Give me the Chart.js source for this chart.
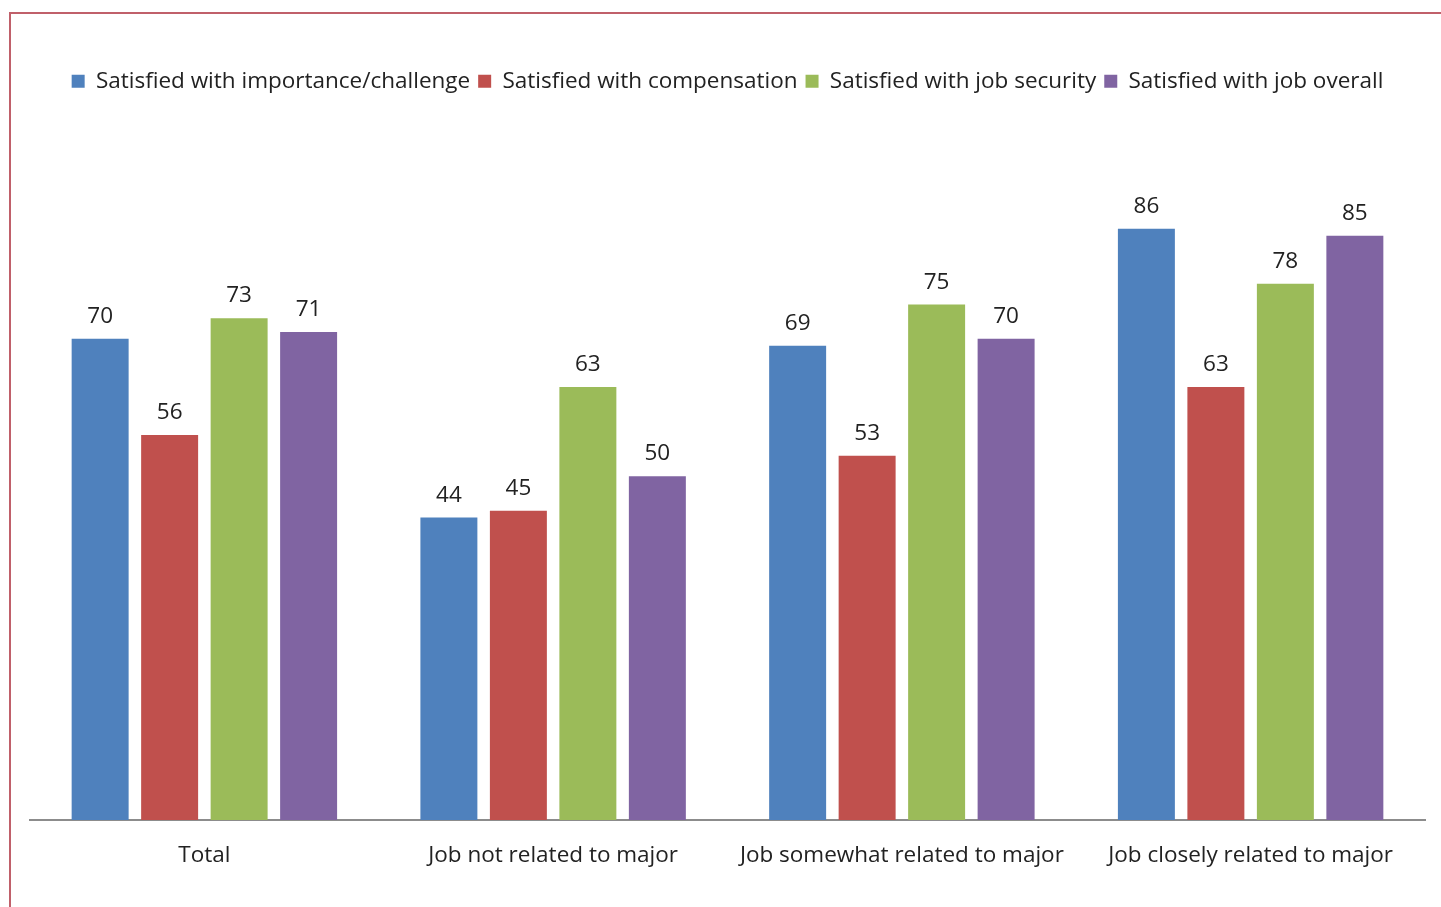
<!DOCTYPE html>
<html>
<head>
<meta charset="utf-8">
<script src="https://cdn.jsdelivr.net/npm/chart.js@4"></script>
<style>
    html, body { margin: 0; padding: 0; background: #fff; }
    #wrap { position: relative; width: 1441px; height: 907px; overflow: hidden; }
    #frame { position: absolute; left: 9px; top: 12px; width: 1500px; height: 1000px; border-left: 2px solid #c0606a; border-top: 2px solid #c0606a; }
    canvas { position: absolute; left: 0; top: 0; }
</style>
</head>
<body>
<div id="wrap">
    <div id="frame"></div>
    <canvas id="barChart" width="1441" height="907"></canvas>
</div>
<script>
// Data
const categories = ['Total', 'Job not related to major', 'Job somewhat related to major', 'Job closely related to major'];
const seriesNames = ['Satisfied with importance/challenge', 'Satisfied with compensation', 'Satisfied with job security', 'Satisfied with job overall'];
const importanceVals = [70, 44, 69, 86];
const compensationVals = [56, 45, 53, 63];
const securityVals = [73, 63, 75, 78];
const overallVals = [71, 50, 70, 85];
const colors = ['#4f81bd', '#c0504d', '#9bbb59', '#8064a2'];

const FONT = '"Open Sans", sans-serif';
const FONT_SIZE = 22.5;

// draws the value above each bar
const valueLabels = {
    id: 'valueLabels',
    afterDatasetsDraw(chart) {
        const ctx = chart.ctx;
        ctx.save();
        ctx.font = FONT_SIZE + 'px ' + FONT;
        ctx.fillStyle = '#222';
        ctx.textAlign = 'center';
        ctx.textBaseline = 'bottom';
        chart.data.datasets.forEach((ds, i) => {
            chart.getDatasetMeta(i).data.forEach((bar, j) => {
                ctx.fillText(ds.data[j], bar.x, bar.y - 11);
            });
        });
        ctx.restore();
    }
};

// extra room below the legend
const legendGap = {
    id: 'legendGap',
    beforeInit(chart) {
        const fit = chart.legend.fit;
        chart.legend.fit = function () {
            fit.bind(chart.legend)();
            this.height += 30;
        };
    }
};

const allVals = [importanceVals, compensationVals, securityVals, overallVals];

new Chart(document.getElementById('barChart').getContext('2d'), {
    type: 'bar',
    data: {
        labels: categories,
        datasets: seriesNames.map((name, i) => ({
            label: name,
            data: allVals[i],
            backgroundColor: colors[i],
            categoryPercentage: 0.797,
            barPercentage: 0.82
        }))
    },
    options: {
        responsive: false,
        animation: false,
        layout: { padding: { left: 30, right: 16, top: 62, bottom: 16 } },
        plugins: {
            legend: {
                position: 'top',
                labels: {
                    boxWidth: 13,
                    boxHeight: 13,
                    padding: 8,
                    color: '#222',
                    font: { size: FONT_SIZE, family: FONT }
                }
            },
            tooltip: { enabled: false }
        },
        scales: {
            y: { display: false, min: 0, max: 100 },
            x: {
                grid: { display: false, drawTicks: false },
                border: { display: true, color: '#8c8c8c', width: 2 },
                ticks: { color: '#222', padding: 22, font: { size: FONT_SIZE, family: FONT } }
            }
        }
    },
    plugins: [valueLabels, legendGap]
});
</script>
</body>
</html>
